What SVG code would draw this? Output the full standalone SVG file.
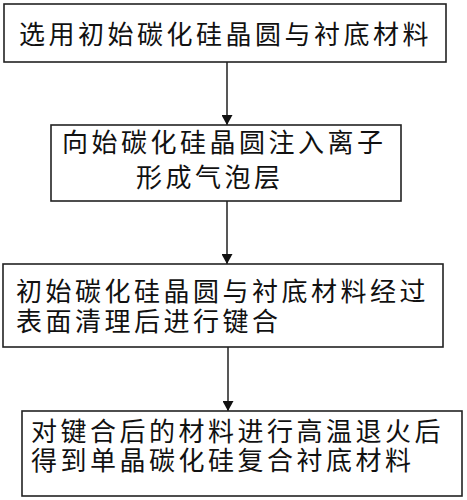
<svg xmlns="http://www.w3.org/2000/svg" width="467" height="500" viewBox="0 0 467 500">
<defs>
<style>
.box{fill:#fff;stroke:#222;stroke-width:1.6}
.t{font-family:"Liberation Sans","Noto Sans CJK SC","Noto Sans CJK TC",sans-serif;font-size:26px;letter-spacing:3.5px;fill:#111}
.c{stroke:#111;stroke-width:1.4;fill:none}
</style>
<marker id="ah" viewBox="0 0 10 11" refX="10" refY="5.5" markerWidth="10" markerHeight="11" markerUnits="userSpaceOnUse" orient="auto">
<path d="M0,0 L10,5.5 L0,11 Z" fill="#111"/>
</marker>
</defs>
<rect width="467" height="500" fill="#fff"/>
<g id="connectors">
<line class="c" x1="227" y1="62" x2="227" y2="125" marker-end="url(#ah)"/>
<line class="c" x1="227" y1="201" x2="227" y2="264" marker-end="url(#ah)"/>
<line class="c" x1="228" y1="347" x2="228" y2="411" marker-end="url(#ah)"/>
</g>
<g id="node1">
<rect class="box" x="4" y="4" width="442" height="58"/>
<text class="t" x="19" y="44">选用初始碳化硅晶圆与衬底材料</text>
</g>
<g id="node2">
<rect class="box" x="51" y="125" width="350" height="76"/>
<text class="t"><tspan x="62" y="152">向始碳化硅晶圆注入离子</tspan><tspan x="136" y="187">形成气泡层</tspan></text>
</g>
<g id="node3">
<rect class="box" x="3" y="264" width="440" height="83"/>
<text class="t"><tspan x="16" y="301">初始碳化硅晶圆与衬底材料经过</tspan><tspan x="16" y="331">表面清理后进行键合</tspan></text>
</g>
<g id="node4">
<rect class="box" x="22" y="411" width="440" height="85"/>
<text class="t"><tspan x="31" y="441">对键合后的材料进行高温退火后</tspan><tspan x="31" y="470">得到单晶碳化硅复合衬底材料</tspan></text>
</g>
</svg>
